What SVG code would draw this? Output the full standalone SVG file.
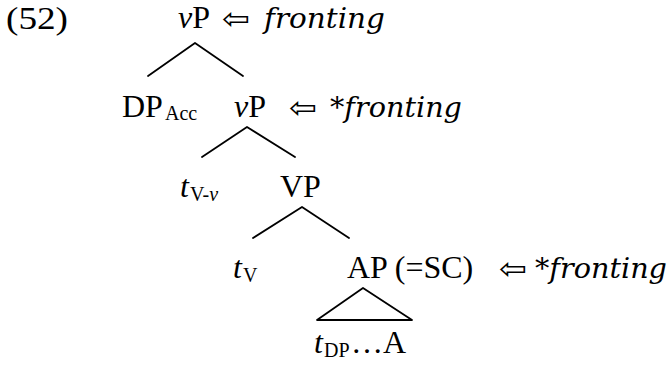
<svg xmlns="http://www.w3.org/2000/svg" width="669" height="367" viewBox="0 0 669 367">
  <style>
    .lbl { font-family: "Liberation Serif", "Times New Roman", serif; font-size: 32px; fill: #000; }
    .it { font-style: italic; }
    .sub { font-size: 20px; }
    .note { font-family: "DejaVu Serif", "Liberation Serif", serif; font-style: italic; font-size: 28px; fill: #000; }
    .arr { font-family: "DejaVu Sans", sans-serif; font-size: 30px; fill: #000; }
    .br { stroke: #000; stroke-width: 1.8; fill: none; stroke-linecap: round; stroke-linejoin: round; }
  </style>
  <rect width="669" height="367" fill="#fff"/>

  <!-- example number -->
  <text id="exnum" class="lbl" x="6" y="29" textLength="62" lengthAdjust="spacingAndGlyphs">(52)</text>

  <!-- branches -->
  <g id="edges" class="br">
    <path d="M148 76 L195 43 L243 76"/>
    <path d="M202 157 L247 127 L295 157"/>
    <path d="M253 238 L302 207 L349 238"/>
    <path d="M363 288 L317 320 L412 320 Z"/>
  </g>

  <!-- root vP -->
  <g id="vP-top">
    <text class="lbl" x="178" y="28"><tspan class="it">v</tspan>P</text>
    <text class="arr" x="222" y="29" textLength="28" lengthAdjust="spacingAndGlyphs">⇦</text>
    <text class="note" x="264" y="28" textLength="121" lengthAdjust="spacingAndGlyphs">fronting</text>
  </g>

  <!-- accusative DP -->
  <g id="DP-acc">
    <text class="lbl" x="122" y="117">DP</text>
    <text class="lbl sub" x="165" y="120">Acc</text>
  </g>

  <!-- lower vP -->
  <g id="vP-low">
    <text class="lbl" x="234" y="117"><tspan class="it">v</tspan>P</text>
    <text class="arr" x="289" y="118" textLength="28" lengthAdjust="spacingAndGlyphs">⇦</text>
    <text class="note" x="330" y="117" textLength="132" lengthAdjust="spacingAndGlyphs">*fronting</text>
  </g>

  <!-- trace of V-v -->
  <g id="t-Vv">
    <text class="lbl it" x="180" y="197">t</text>
    <text class="lbl sub" x="190" y="201">V-<tspan class="it">v</tspan></text>
  </g>

  <!-- VP -->
  <g id="VP">
    <text class="lbl" x="280" y="197">VP</text>
  </g>

  <!-- trace of V -->
  <g id="t-V">
    <text class="lbl it" x="233" y="278">t</text>
    <text class="lbl sub" x="243" y="282">V</text>
  </g>

  <!-- AP small clause -->
  <g id="AP">
    <text class="lbl" x="347" y="278">AP (=SC)</text>
    <text class="arr" x="499" y="279" textLength="28" lengthAdjust="spacingAndGlyphs">⇦</text>
    <text class="note" x="535" y="278" textLength="132" lengthAdjust="spacingAndGlyphs">*fronting</text>
  </g>

  <!-- AP contents -->
  <g id="AP-content">
    <text class="lbl it" x="314" y="353">t</text>
    <text class="lbl sub" x="324" y="357">DP</text>
    <text class="lbl" x="351" y="353">…A</text>
  </g>
</svg>
